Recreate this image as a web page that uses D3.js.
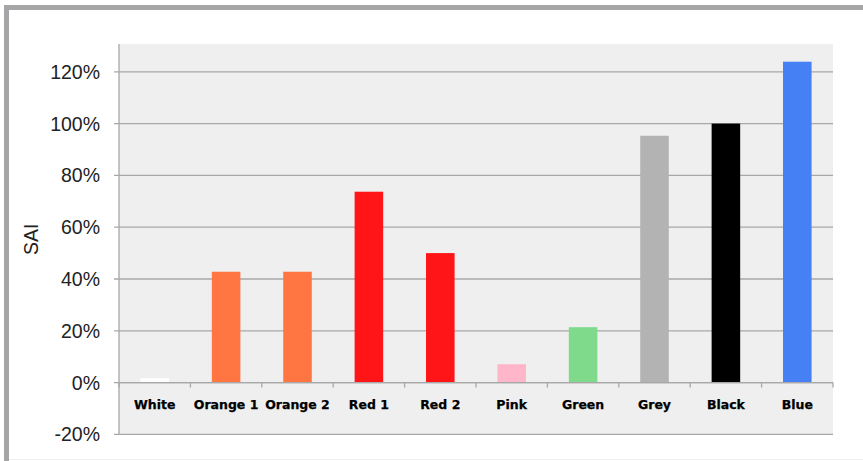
<!DOCTYPE html>
<html>
<head>
<meta charset="utf-8">
<script src="https://cdn.jsdelivr.net/npm/d3@7"></script>
<style>
  html, body { margin: 0; padding: 0; background: #fff; }
  svg { display: block; }
</style>
</head>
<body>
<svg id="chart" width="863" height="461"></svg>
<script>
// Colour swatches and their SAI score (fraction of reference)
const categories = ["White", "Orange 1", "Orange 2", "Red 1", "Red 2", "Pink", "Green", "Grey", "Black", "Blue"];
const saiValues  = [0.017, 0.428, 0.428, 0.737, 0.50, 0.071, 0.214, 0.953, 1.00, 1.239];
const barColors  = ["#ffffff", "#ff7643", "#ff7643", "#ff1418", "#ff1418", "#ffb5ca", "#80da8c", "#b3b3b3", "#000000", "#4581f5"];
const yTicks     = [-0.2, 0, 0.2, 0.4, 0.6, 0.8, 1.0, 1.2];
const yTitle     = "SAI";

const svg = d3.select("#chart");
const W = 863, H = 461;

// outer frame (top and left rules)
svg.append("rect").attr("x", 4).attr("y", 5).attr("width", W - 4).attr("height", 5).attr("fill", "#a6a6a8");
svg.append("rect").attr("x", 4).attr("y", 5).attr("width", 5).attr("height", H - 5).attr("fill", "#a6a6a8");
svg.append("rect").attr("x", 9).attr("y", 459).attr("width", W - 9).attr("height", 1).attr("fill", "#f0f0f0");

const plot = { left: 119, right: 833, top: 44, bottom: 434.4 };

const x = d3.scaleBand()
  .domain(categories)
  .range([plot.left, plot.right])
  .paddingInner(0.6)
  .paddingOuter(0.3);

const xb = d3.scaleBand().domain(categories).range([plot.left, plot.right]);

const y = d3.scaleLinear()
  .domain([-0.2, 1.2])
  .range([plot.bottom, 71.8]);

const pct = d => d3.format(".0%")(d).replace("\u2212", "-");

// plot area background
svg.append("rect")
  .attr("x", plot.left).attr("y", plot.top)
  .attr("width", plot.right - plot.left).attr("height", plot.bottom - plot.top)
  .attr("fill", "#efefef");

// horizontal gridlines
svg.append("g").selectAll("line")
  .data(yTicks)
  .join("line")
  .attr("x1", plot.left - 5).attr("x2", plot.right)
  .attr("y1", d => y(d)).attr("y2", d => y(d))
  .attr("stroke", "#a8a8a8").attr("stroke-width", 1.3);

// vertical value axis line
svg.append("line")
  .attr("x1", plot.left).attr("x2", plot.left)
  .attr("y1", plot.top).attr("y2", plot.bottom)
  .attr("stroke", "#a8a8a8").attr("stroke-width", 1.3);

// y tick labels
svg.append("g").selectAll("text")
  .data(yTicks)
  .join("text")
  .attr("x", 100).attr("y", d => y(d))
  .attr("dy", "0.36em")
  .attr("text-anchor", "end")
  .attr("font-family", "Liberation Sans, Arial, sans-serif")
  .attr("font-size", 19.5)
  .attr("fill", "#222")
  .text(pct);

// y title
svg.append("text")
  .attr("transform", `translate(38, ${(plot.top + plot.bottom) / 2}) rotate(-90)`)
  .attr("text-anchor", "middle")
  .attr("font-family", "Liberation Sans, Arial, sans-serif")
  .attr("font-size", 19.5)
  .attr("fill", "#222")
  .text(yTitle);

// bars
svg.append("g").selectAll("rect")
  .data(categories.map((c, i) => ({ c, v: saiValues[i], col: barColors[i] })))
  .join("rect")
  .attr("x", d => x(d.c))
  .attr("width", x.bandwidth())
  .attr("y", d => y(Math.max(0, d.v)))
  .attr("height", d => Math.abs(y(d.v) - y(0)))
  .attr("fill", d => d.col);

// category axis at zero with boundary ticks
const boundaries = categories.map(c => xb(c)).concat([plot.right]);
svg.append("line")
  .attr("x1", plot.left).attr("x2", plot.right)
  .attr("y1", y(0)).attr("y2", y(0))
  .attr("stroke", "#a8a8a8").attr("stroke-width", 1.3);
svg.append("g").selectAll("line")
  .data(boundaries)
  .join("line")
  .attr("x1", d => d).attr("x2", d => d)
  .attr("y1", y(0)).attr("y2", y(0) + 5)
  .attr("stroke", "#a8a8a8").attr("stroke-width", 1.3);

// category labels
svg.append("g").selectAll("text")
  .data(categories)
  .join("text")
  .attr("x", d => xb(d) + xb.bandwidth() / 2)
  .attr("y", 409)
  .attr("text-anchor", "middle")
  .attr("font-family", "DejaVu Sans, Verdana, sans-serif")
  .attr("font-weight", "bold")
  .attr("font-size", 12.5)
  .attr("fill", "#000")
  .attr("stroke", "#000")
  .attr("stroke-width", 0.25)
  .text(d => d);
</script>
</body>
</html>
